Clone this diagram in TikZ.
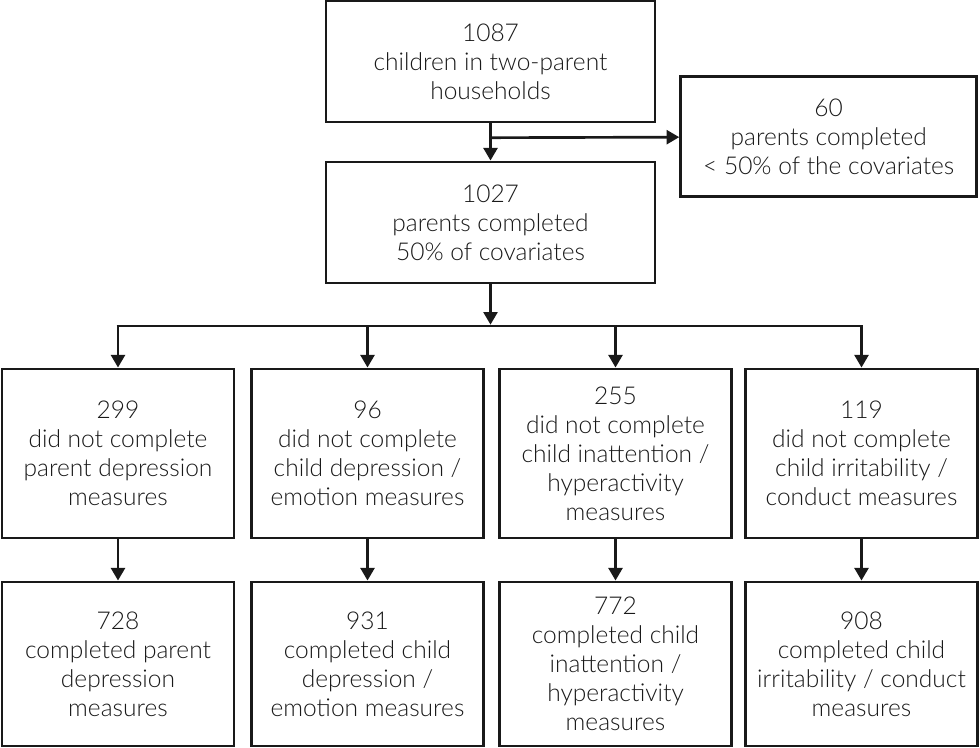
\documentclass[tikz,border=0pt]{standalone}
\usepackage{fontspec}
\setmainfont{Lato Light}
\usetikzlibrary{arrows.meta}
\begin{document}
\begin{tikzpicture}[x=0.75pt,y=-0.75pt,
  box/.style={draw=black!90, line width=2.2pt, rectangle, align=center, inner sep=0pt,
    font=\fontsize{18.4}{21.75}\selectfont, text=black!90},
  topbox/.style={box, minimum width=246.75pt, minimum height=90.75pt},
  sidebox/.style={box, minimum width=222pt, minimum height=90pt},
  midbox/.style={box, minimum width=174pt, minimum height=126.75pt},
  botbox/.style={box, minimum width=174pt, minimum height=123pt},
  conn/.style={draw=black!90, line width=2pt},
  arr/.style={conn, -{Triangle[length=9.5pt,width=10.5pt]}}]
\useasboundingbox (0,0) rectangle (980,748);

\node[topbox] (n1087) at (490.5,61.5) {1087\\children in two-parent\\households};
\node[topbox] (n1027) at (490.5,222.5) {1027\\parents completed\\50\% of covariates};
\node[sidebox] (n60) at (828.7,136.7) {60\\parents completed\\< 50\% of the covariates};

\node[midbox] (m1) at (118,453.5) {299\\did not complete\\parent depression\\measures};
\node[midbox] (m2) at (367.5,453.5) {96\\did not complete\\child depression /\\emotion measures};
\node[midbox] (m3) at (615.5,453.5) {255\\did not complete\\child inattention /\\hyperactivity\\measures};
\node[midbox] (m4) at (861.5,453.5) {119\\did not complete\\child irritability /\\conduct measures};

\node[botbox] (b1) at (118,664) {728\\completed parent\\depression\\measures};
\node[botbox] (b2) at (367.5,664) {931\\completed child\\depression /\\emotion measures};
\node[botbox] (b3) at (615.5,664) {772\\completed child\\inattention /\\hyperactivity\\measures};
\node[botbox] (b4) at (861.5,664) {908\\completed child\\irritability / conduct\\measures};

\coordinate (split) at (490.5,137.7);
\coordinate (hub) at (490.5,326);
\coordinate (hl) at (118,326);
\coordinate (hr) at (861.5,326);

\draw[arr] (n1087) -- (n1027);
\draw[arr] (split) -- (n60);
\draw[arr] (n1027.south) -- ([yshift=1pt]hub);
\draw[conn] ([xshift=-1pt]hl) -- ([xshift=1pt]hr);
\draw[arr] ([yshift=-1pt]hl) -- (m1);
\draw[arr] (367.5,325) -- (m2);
\draw[arr] (615.5,325) -- (m3);
\draw[arr] ([yshift=-1pt]hr) -- (m4);

\draw[arr] (m1) -- (b1);
\draw[arr] (m2) -- (b2);
\draw[arr] (m3) -- (b3);
\draw[arr] (m4) -- (b4);
\end{tikzpicture}
\end{document}
